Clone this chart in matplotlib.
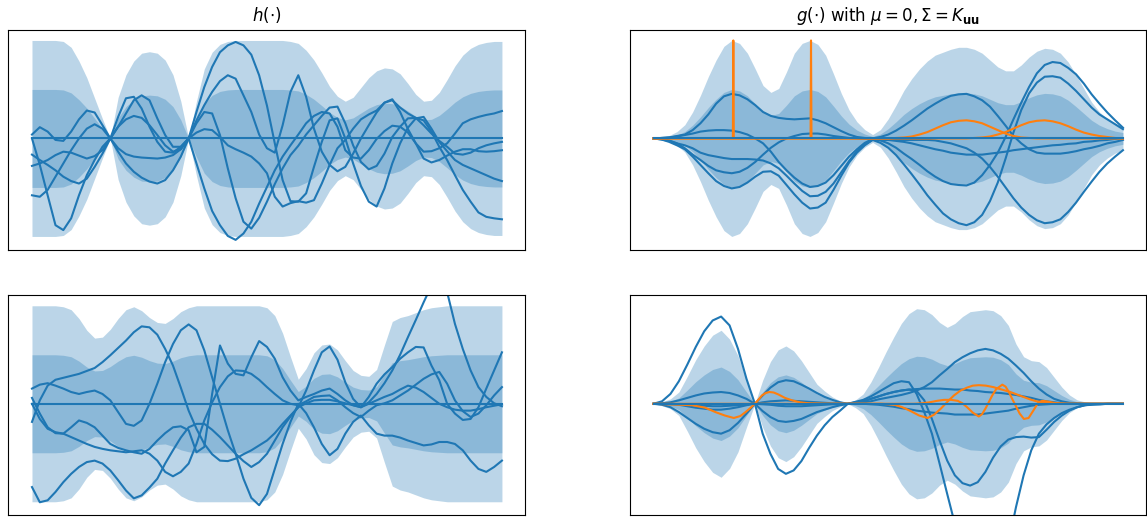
import numpy as np
import matplotlib.pyplot as plt

# input grid shared by three panels (observations sit at x = 5/3 and 10/3)
x = np.linspace(0, 10, 61)

# ---- h(.) posterior, top left ----
tl_sd = [1.0, 1.0, 1.0, 1.0, 0.99, 0.93, 0.79, 0.62, 0.41, 0.20, 0.0,
         0.42, 0.65, 0.79, 0.87, 0.885, 0.87, 0.80, 0.65, 0.38, 0.0,
         0.38, 0.71, 0.88, 0.96, 0.99, 1.0, 1.0, 1.0, 1.0, 1.0,
         1.0, 1.0, 0.99, 0.97, 0.9, 0.8, 0.67, 0.53, 0.43, 0.38,
         0.42, 0.52, 0.62, 0.69, 0.72, 0.71, 0.66, 0.56, 0.45, 0.38,
         0.39, 0.47, 0.6, 0.74, 0.85, 0.92, 0.96, 0.98, 0.99, 0.99]
tl_h1 = [0.08, 0.23, 0.14, -0.03, -0.05, 0.14, 0.39, 0.57, 0.53, 0.27, 0.0,
         0.44, 0.82, 0.85, 0.61, 0.24, -0.07, -0.27, -0.29, -0.17, 0.0,
         0.54, 1.05, 1.46, 1.76, 1.90, 1.97, 1.90, 1.71, 1.29, 0.67,
         -0.10, -0.85, -1.28, -1.29, -1.12, -0.58, -0.07, 0.37, 0.41, 0.0,
         -0.51, -0.97, -1.29, -1.39, -1.02, -0.51, -0.1, 0.22, 0.41, 0.44,
         0.2, -0.07, -0.26, -0.44, -0.54, -0.61, -0.68, -0.75, -0.82, -0.87]
tl_h2 = [0.0, -0.54, -1.16, -1.77, -1.87, -1.63, -1.16, -0.75, -0.44, -0.17, 0.0,
         0.24, 0.51, 0.78, 0.88, 0.78, 0.41, 0.07, -0.17, -0.17, 0.0,
         0.37, 0.68, 0.95, 1.17, 1.29, 1.22, 0.88, 0.54, 0.08, -0.2,
         -0.29, 0.27, 0.95, 1.29, 0.85, 0.2, -0.27, -0.54, -0.67, -0.58,
         -0.31, 0.0, 0.27, 0.53, 0.73, 0.8, 0.54, 0.19, -0.1, -0.27,
         -0.26, -0.2, -0.1, 0.1, 0.31, 0.39, 0.44, 0.48, 0.51, 0.56]
tl_h3 = [-0.33, -0.44, -0.54, -0.65, -0.78, -0.87, -0.92, -0.82, -0.58, -0.31, 0.0,
         -0.27, -0.51, -0.68, -0.8, -0.88, -0.92, -0.85, -0.65, -0.37, 0.0,
         0.31, 0.54, 0.51, 0.07, -0.61, -1.22, -1.7, -1.84, -1.62, -1.29,
         -0.93, -0.61, -0.34, -0.15, 0.08, 0.27, 0.46, 0.63, 0.65, 0.31,
         -0.14, -0.48, -0.63, -0.56, -0.31, 0.03, 0.24, 0.41, 0.42, 0.37,
         0.14, -0.17, -0.44, -0.75, -1.05, -1.29, -1.51, -1.6, -1.63, -1.65]
tl_h4 = [-0.56, -0.51, -0.44, -0.34, -0.27, -0.29, -0.35, -0.41, -0.36, -0.24, 0.0,
         -0.2, -0.32, -0.37, -0.39, -0.4, -0.41, -0.39, -0.34, -0.22, 0.0,
         -0.51, -1.02, -1.48, -1.77, -1.99, -2.07, -1.94, -1.7, -1.33, -0.99,
         -0.65, -0.37, -0.14, 0.08, 0.31, 0.46, 0.54, 0.51, 0.24, -0.24,
         -0.39, -0.41, -0.24, -0.01, 0.15, 0.26, 0.24, 0.12, -0.1, -0.41,
         -0.49, -0.44, -0.35, -0.27, -0.22, -0.22, -0.26, -0.27, -0.26, -0.24]
tl_h5 = [-1.16, -1.19, -1.05, -0.78, -0.51, -0.24, 0.0, 0.2, 0.29, 0.2, 0.0,
         0.24, 0.39, 0.46, 0.42, 0.27, 0.07, -0.14, -0.27, -0.22, 0.0,
         0.12, 0.19, 0.17, 0.03, -0.14, -0.22, -0.29, -0.37, -0.51, -0.71,
         -1.19, -1.39, -1.32, -1.28, -1.31, -1.26, -0.92, -0.54, -0.2, -0.03,
         0.2, 0.39, 0.49, 0.57, 0.73, 0.78, 0.63, 0.51, 0.42, 0.27,
         0.1, -0.05, -0.17, -0.31, -0.33, -0.29, -0.2, -0.14, -0.1, -0.07]

# ---- g(.) prior, top right ----
tr_sd = [0.0, 0.01, 0.03, 0.07, 0.14, 0.27, 0.44, 0.63, 0.80, 0.94, 1.0,
         0.97, 0.87, 0.71, 0.54, 0.47, 0.51, 0.68, 0.87, 0.97, 1.0,
         0.96, 0.85, 0.66, 0.46, 0.29, 0.17, 0.09, 0.04, 0.09, 0.2,
         0.34, 0.49, 0.61, 0.71, 0.79, 0.85, 0.88, 0.91, 0.93, 0.93,
         0.91, 0.87, 0.80, 0.73, 0.69, 0.69, 0.75, 0.83, 0.89, 0.92,
         0.91, 0.87, 0.78, 0.65, 0.51, 0.37, 0.27, 0.2, 0.15, 0.12]
tr_g1 = [0.0, 0.01, 0.02, 0.05, 0.08, 0.17, 0.31, 0.49, 0.71, 0.86, 0.91,
         0.88, 0.80, 0.68, 0.54, 0.46, 0.42, 0.40, 0.39, 0.40, 0.41,
         0.37, 0.31, 0.23, 0.15, 0.08, 0.03, 0.01, 0.0, 0.03, 0.08,
         0.16, 0.26, 0.37, 0.49, 0.61, 0.71, 0.80, 0.87, 0.90, 0.91,
         0.86, 0.78, 0.65, 0.46, 0.26, 0.05, -0.1, -0.22, -0.29, -0.31,
         -0.31, -0.31, -0.29, -0.26, -0.22, -0.19, -0.15, -0.1, -0.07, -0.03]
tr_g2 = [0.0, 0.01, 0.02, 0.04, 0.07, 0.10, 0.14, 0.16, 0.17, 0.17, 0.16,
         0.13, 0.08, 0.0, -0.1, -0.27, -0.48, -0.65, -0.80, -0.92, -0.99,
         -0.97, -0.90, -0.75, -0.56, -0.37, -0.22, -0.09, -0.01, -0.04, -0.1,
         -0.19, -0.31, -0.42, -0.54, -0.67, -0.78, -0.87, -0.93, -0.95, -0.96,
         -0.90, -0.75, -0.54, -0.29, 0.03, 0.39, 0.73, 1.05, 1.33, 1.50,
         1.56, 1.54, 1.44, 1.31, 1.12, 0.90, 0.71, 0.53, 0.37, 0.22]
tr_g3 = [0.0, -0.02, -0.05, -0.1, -0.14, -0.2, -0.29, -0.34, -0.37, -0.4, -0.42,
         -0.42, -0.42, -0.43, -0.45, -0.51, -0.61, -0.76, -0.92, -1.07, -1.18,
         -1.17, -1.09, -0.92, -0.69, -0.46, -0.26, -0.12, -0.03, -0.09, -0.19,
         -0.34, -0.53, -0.73, -0.94, -1.16, -1.35, -1.53, -1.65, -1.73, -1.77,
         -1.71, -1.56, -1.28, -0.9, -0.41, 0.12, 0.58, 0.92, 1.14, 1.26,
         1.27, 1.24, 1.12, 0.97, 0.80, 0.63, 0.49, 0.39, 0.29, 0.19]
tr_g4 = [0.0, -0.01, -0.04, -0.1, -0.2, -0.33, -0.44, -0.56, -0.65, -0.69, -0.71,
         -0.68, -0.6, -0.48, -0.33, -0.19, -0.08, 0.0, 0.05, 0.09, 0.1,
         0.1, 0.08, 0.05, 0.03, 0.01, 0.0, -0.01, -0.01, -0.02, -0.03,
         -0.05, -0.07, -0.1, -0.14, -0.18, -0.22, -0.25, -0.29, -0.31, -0.33,
         -0.33, -0.33, -0.31, -0.29, -0.27, -0.24, -0.22, -0.2, -0.18, -0.16,
         -0.14, -0.13, -0.11, -0.1, -0.07, -0.06, -0.04, -0.03, -0.01, 0.0]
tr_g5 = [0.0, -0.02, -0.07, -0.14, -0.22, -0.37, -0.54, -0.71, -0.87, -0.97, -1.02,
         -0.99, -0.9, -0.78, -0.68, -0.67, -0.76, -0.95, -1.14, -1.31, -1.43,
         -1.41, -1.31, -1.05, -0.76, -0.49, -0.29, -0.14, -0.03, -0.03, -0.03,
         -0.03, -0.03, -0.03, -0.03, -0.03, -0.04, -0.07, -0.1, -0.15, -0.2,
         -0.29, -0.41, -0.58, -0.78, -1.0, -1.22, -1.41, -1.56, -1.67, -1.73,
         -1.71, -1.65, -1.5, -1.31, -1.09, -0.88, -0.68, -0.51, -0.37, -0.24]

# basis functions (orange): narrow spikes, then smooth bumps on x >= 5
tr_basis_x = np.concatenate([[0.0, 1.65, 1.69, 1.70, 1.71, 1.75,
                              3.3, 3.345, 3.355, 3.365, 3.41],
                             np.linspace(5, 10, 31)])
tr_basis1 = [0, 0, 0, 2.0, 0, 0,
             0, 0, 0, 0, 0,
             0.0, 0.01, 0.02, 0.04, 0.08, 0.13, 0.2, 0.27, 0.33, 0.36,
             0.37, 0.35, 0.31, 0.24, 0.17, 0.1, 0.05, 0.02, 0.01, 0.0,
             0, 0, 0, 0, 0, 0, 0, 0, 0, 0, 0]
tr_basis2 = [0, 0, 0, 0, 0, 0,
             0, 0, 2.0, 0, 0,
             0, 0, 0, 0, 0, 0, 0, 0, 0, 0,
             0.0, 0.01, 0.02, 0.04, 0.08, 0.13, 0.2, 0.27, 0.33, 0.36,
             0.37, 0.35, 0.31, 0.25, 0.18, 0.12, 0.08, 0.05, 0.03, 0.01, 0.0]

# ---- bottom left ----
bl_sd = [1.0, 1.0, 1.0, 1.0, 0.99, 0.96, 0.87, 0.75, 0.67, 0.68, 0.76,
         0.87, 0.96, 0.99, 0.95, 0.88, 0.83, 0.82, 0.87, 0.94, 0.98,
         1.0, 1.0, 1.0, 1.0, 1.0, 1.0, 1.0, 1.0, 1.0, 0.98,
         0.9, 0.72, 0.48, 0.25, 0.36, 0.52, 0.6, 0.61, 0.55, 0.44,
         0.34, 0.29, 0.28, 0.35, 0.6, 0.84, 0.88, 0.9, 0.93, 0.96,
         0.98, 0.99, 1.0, 1.0, 1.0, 1.0, 1.0, 1.0, 1.0, 1.0]
bl_s1 = [-0.37, 0.07, 0.37, 0.49, 0.53, 0.57, 0.61, 0.67, 0.73, 0.85,
         0.99, 1.14, 1.29, 1.46, 1.58, 1.56, 1.41, 1.12, 0.78, 0.33,
         -0.14, -0.51, -0.82, -1.03, -1.16, -1.17, -1.12, -1.03, -0.95, -0.85,
         -0.75, -0.6, -0.41, -0.24, -0.07, 0.27, 0.68, 1.05, 1.17, 0.90,
         0.44, 0.1, -0.07, 0.03, 0.2, 0.42, 0.68, 1.0, 1.36, 1.71,
         2.07, 2.41, 2.62, 2.28, 1.63, 1.12, 0.68, 0.34, 0.14, 0.01, -0.05]
bl_s2 = [0.31, 0.39, 0.42, 0.37, 0.31, 0.24, 0.2, 0.24, 0.27, 0.2,
         0.07, -0.17, -0.41, -0.45, -0.34, 0.0, 0.41, 0.85, 1.22, 1.5,
         1.62, 1.5, 1.09, 0.54, 0.0, -0.54, -1.02, -1.53, -1.92, -2.07,
         -1.84, -1.33, -0.82, -0.37, 0.0, -0.19, -0.48, -0.82, -1.05, -0.92,
         -0.61, -0.37, -0.24, -0.44, -0.61, -0.65, -0.65, -0.69, -0.75, -0.8,
         -0.85, -0.83, -0.78, -0.78, -0.82, -0.95, -1.16, -1.33, -1.39, -1.29, -1.16]
bl_s3 = [0.12, -0.2, -0.48, -0.6, -0.61, -0.48, -0.34, -0.39, -0.48, -0.65,
         -0.82, -0.9, -0.95, -0.99, -1.02, -0.92, -0.75, -0.6, -0.48, -0.46,
         -0.54, -0.99, -0.88, 0.2, 1.19, 0.82, 0.61, 0.58, 0.95, 1.28,
         1.16, 0.92, 0.54, 0.27, 0.07, 0.14, 0.2, 0.27, 0.31, 0.2,
         0.07, -0.03, -0.07, 0.14, 0.41, 0.6, 0.75, 0.92, 1.05, 1.16,
         1.15, 0.78, 0.48, 0.0, -0.2, -0.33, -0.31, -0.07, 0.31, 0.68, 1.05]
bl_s4 = [0.0, -0.31, -0.51, -0.58, -0.61, -0.68, -0.75, -0.82, -0.88, -0.92,
         -0.95, -0.97, -0.99, -0.97, -0.95, -1.02, -1.16, -1.39, -1.48, -1.39,
         -1.22, -0.82, -0.34, 0.03, 0.34, 0.56, 0.68, 0.67, 0.61, 0.49,
         0.34, 0.2, 0.07, 0.0, -0.03, 0.05, 0.14, 0.16, 0.17, 0.07,
         -0.07, -0.19, -0.27, -0.14, -0.03, 0.01, 0.07, 0.17, 0.27, 0.39,
         0.51, 0.6, 0.65, 0.41, 0.07, -0.15, -0.27, -0.2, -0.03, 0.17, 0.34]
bl_s5 = [-1.7, -2.01, -1.97, -1.8, -1.6, -1.43, -1.29, -1.19, -1.16, -1.22,
         -1.36, -1.56, -1.77, -1.93, -1.87, -1.71, -1.53, -1.22, -0.95, -0.69,
         -0.48, -0.41, -0.41, -0.53, -0.68, -0.85, -1.02, -1.17, -1.29, -1.19,
         -1.02, -0.75, -0.48, -0.26, -0.07, 0.01, 0.07, 0.08, 0.08, 0.05,
         0.01, -0.03, -0.07, 0.0, 0.07, 0.14, 0.2, 0.29, 0.37, 0.33,
         0.24, 0.12, 0.0, -0.07, -0.12, -0.14, -0.14, -0.11, -0.07, -0.04, -0.01]

# ---- bottom right (its own inputs: zeros at 2.16 and 4.14) ----
br_x = np.concatenate([np.linspace(0, 2.16, 13),
                       np.linspace(2.16, 4.14, 13)[1:],
                       np.linspace(4.14, 10, 37)[1:]])
br_sd = [0.0, 0.02, 0.05, 0.12, 0.28, 0.45, 0.59, 0.70, 0.75, 0.66, 0.49, 0.24, 0.0,
         0.24, 0.43, 0.55, 0.59, 0.54, 0.44, 0.32, 0.2, 0.13, 0.07, 0.03, 0.0,
         0.04, 0.1, 0.22, 0.37, 0.53, 0.68, 0.82, 0.92, 0.97, 0.96,
         0.91, 0.83, 0.78, 0.82, 0.89, 0.94, 0.95, 0.96, 0.95, 0.90,
         0.80, 0.61, 0.48, 0.44, 0.43, 0.37, 0.27, 0.17, 0.09, 0.04,
         0.02, 0.01, 0.005, 0.0, 0.0, 0.0]
br_s1 = [0.0, 0.05, 0.2, 0.46, 0.8, 1.16, 1.48, 1.7, 1.78, 1.6, 1.12, 0.51, 0.0,
         -0.61, -1.02, -1.33, -1.43, -1.36, -1.17, -0.90, -0.65, -0.44, -0.27, -0.14, 0.0,
         0.04, 0.08, 0.15, 0.24, 0.33, 0.42, 0.46, 0.44, 0.2, -0.17,
         -0.61, -1.22, -1.84, -2.45, -3.13, -3.74, -4.08, -4.15, -4.01, -3.54,
         -2.86, -2.11, -1.46, -0.95, -0.61, -0.42, -0.29, -0.19, -0.12, -0.07,
         -0.03, -0.02, -0.01, 0.0, 0.0, 0.0]
br_s2 = [0.0, 0.01, 0.03, 0.07, 0.12, 0.17, 0.21, 0.23, 0.24, 0.22, 0.17, 0.1, 0.0,
         0.17, 0.33, 0.44, 0.48, 0.46, 0.39, 0.31, 0.22, 0.14, 0.08, 0.03, 0.0,
         0.01, 0.03, 0.05, 0.09, 0.12, 0.15, 0.18, 0.22, 0.27, 0.34,
         0.44, 0.58, 0.71, 0.85, 0.95, 1.03, 1.09, 1.12, 1.09, 1.02,
         0.92, 0.78, 0.63, 0.46, 0.31, 0.19, 0.1, 0.05, 0.02, 0.01,
         0.0, 0.0, 0.0, 0.0, 0.0, 0.0]
br_s3 = [0.0, -0.02, -0.07, -0.17, -0.29, -0.41, -0.51, -0.58, -0.61, -0.54, -0.39, -0.2, 0.0,
         -0.15, -0.27, -0.35, -0.37, -0.35, -0.31, -0.24, -0.17, -0.12, -0.07, -0.03, 0.0,
         0.03, 0.05, 0.1, 0.15, 0.2, 0.24, 0.27, 0.29, 0.26, 0.07,
         -0.31, -0.75, -1.16, -1.46, -1.62, -1.67, -1.6, -1.39, -1.1, -0.87,
         -0.73, -0.68, -0.67, -0.69, -0.68, -0.53, -0.37, -0.24, -0.14, -0.07,
         -0.03, -0.01, -0.01, 0.0, 0.0, 0.0]
br_s4 = [0.0, 0.0, -0.01, -0.02, -0.05, -0.08, -0.1, -0.12, -0.12, -0.1, -0.07, -0.03, 0.0,
         0.03, 0.05, 0.06, 0.07, 0.06, 0.05, 0.04, 0.03, 0.02, 0.01, 0.01, 0.0,
         0.02, 0.05, 0.1, 0.15, 0.2, 0.24, 0.27, 0.29, 0.3, 0.31,
         0.31, 0.31, 0.3, 0.29, 0.29, 0.27, 0.26, 0.24, 0.23, 0.22,
         0.2, 0.18, 0.15, 0.12, 0.08, 0.05, 0.03, 0.01, 0.0, 0.0,
         0.0, 0.0, 0.0, 0.0, 0.0, 0.0]
br_s5 = [0.0, 0.0, 0.0, -0.01, -0.02, -0.03, -0.04, -0.05, -0.05, -0.04, -0.03, -0.01, 0.0,
         -0.01, -0.02, -0.04, -0.05, -0.05, -0.05, -0.04, -0.03, -0.02, -0.01, -0.01, 0.0,
         0.0, 0.0, -0.01, -0.02, -0.04, -0.06, -0.09, -0.11, -0.14, -0.16,
         -0.18, -0.19, -0.2, -0.22, -0.22, -0.22, -0.22, -0.2, -0.18, -0.16,
         -0.14, -0.1, -0.07, -0.04, -0.02, -0.01, 0.0, 0.0, 0.0, 0.0,
         0.0, 0.0, 0.0, 0.0, 0.0, 0.0]

br_basis1_x = [0.0, 0.83, 1.1, 1.32, 1.52, 1.71, 1.85, 1.96, 2.07, 2.16,
               2.24, 2.31, 2.39, 2.47, 2.56, 2.66, 2.8, 2.95, 3.12, 3.3,
               3.65, 4.85, 5.13, 5.3, 5.48, 5.66, 5.84, 5.98, 6.12, 6.26,
               6.4, 6.54, 6.68, 6.8, 6.93, 7.08, 7.24, 7.42, 7.6, 7.74,
               7.88, 8.02, 8.16, 8.33, 8.51, 8.8, 10.0]
br_basis1 = [0.0, -0.03, -0.08, -0.17, -0.24, -0.29, -0.25, -0.17, -0.08, 0.0,
             0.09, 0.17, 0.22, 0.24, 0.23, 0.19, 0.12, 0.07, 0.03, 0.01,
             0.0, 0.0, -0.02, -0.07, -0.15, -0.24, -0.29, -0.22, -0.1, 0.04,
             0.17, 0.27, 0.33, 0.37, 0.38, 0.37, 0.34, 0.29, 0.24, 0.19,
             0.14, 0.09, 0.05, 0.02, 0.01, 0.0, 0.0]
br_basis2_x = [0.0, 5.55, 5.72, 5.88, 6.04, 6.19, 6.34, 6.48, 6.58, 6.68,
               6.8, 6.93, 7.0, 7.07, 7.14, 7.21, 7.3, 7.43, 7.5, 7.57,
               7.64, 7.71, 7.8, 7.89, 7.99, 8.09, 8.2, 8.28, 8.37, 8.58,
               8.8, 10.0]
br_basis2 = [0.0, 0.0, 0.01, 0.03, 0.06, 0.08, 0.08, 0.06, 0.01, -0.07,
             -0.18, -0.26, -0.21, -0.1, 0.03, 0.16, 0.3, 0.39, 0.35, 0.24,
             0.1, -0.03, -0.2, -0.31, -0.29, -0.14, 0.03, 0.06, 0.05, 0.01,
             0.0, 0.0]


def draw_panel(ax, xs, sd, samples, basis=()):
    xs = np.asarray(xs)
    sd = np.asarray(sd)
    ax.fill_between(xs, -2 * sd, 2 * sd, color='C0', alpha=0.3, linewidth=0)
    ax.fill_between(xs, -sd, sd, color='C0', alpha=0.3, linewidth=0)
    for s in samples:
        ax.plot(xs, s, color='C0', lw=1.5)
    for bx, by in basis:
        ax.plot(bx, by, color='C1', lw=1.5)
    ax.plot(xs, np.zeros(len(xs)), color='C0', lw=1.5)  # zero mean
    ax.set_xlim(-0.5, 10.5)
    ax.set_ylim(-2.27, 2.22)
    ax.set_xticks([])
    ax.set_yticks([])


fig = plt.figure(figsize=(11.47, 5.18), dpi=100)
ax_tl = fig.add_axes([0.0074, 0.518, 0.4507, 0.4247])
ax_tr = fig.add_axes([0.5493, 0.518, 0.4502, 0.4247])
ax_bl = fig.add_axes([0.0074, 0.0058, 0.4507, 0.4247])
ax_br = fig.add_axes([0.5493, 0.0058, 0.4502, 0.4247])

draw_panel(ax_tl, x, tl_sd, [tl_h1, tl_h2, tl_h3, tl_h4, tl_h5])
ax_tl.set_title(r'$h(\cdot)$')

draw_panel(ax_tr, x, tr_sd, [tr_g1, tr_g2, tr_g3, tr_g4, tr_g5],
           basis=[(tr_basis_x, tr_basis1), (tr_basis_x, tr_basis2)])
ax_tr.set_title(r'$g(\cdot)$ with $\mu=0, \Sigma=K_{\mathbf{uu}}$')

draw_panel(ax_bl, x, bl_sd, [bl_s1, bl_s2, bl_s3, bl_s4, bl_s5])

draw_panel(ax_br, br_x, br_sd, [br_s1, br_s2, br_s3, br_s4, br_s5],
           basis=[(br_basis1_x, br_basis1), (br_basis2_x, br_basis2)])

fig.savefig('out.png', dpi=100)
